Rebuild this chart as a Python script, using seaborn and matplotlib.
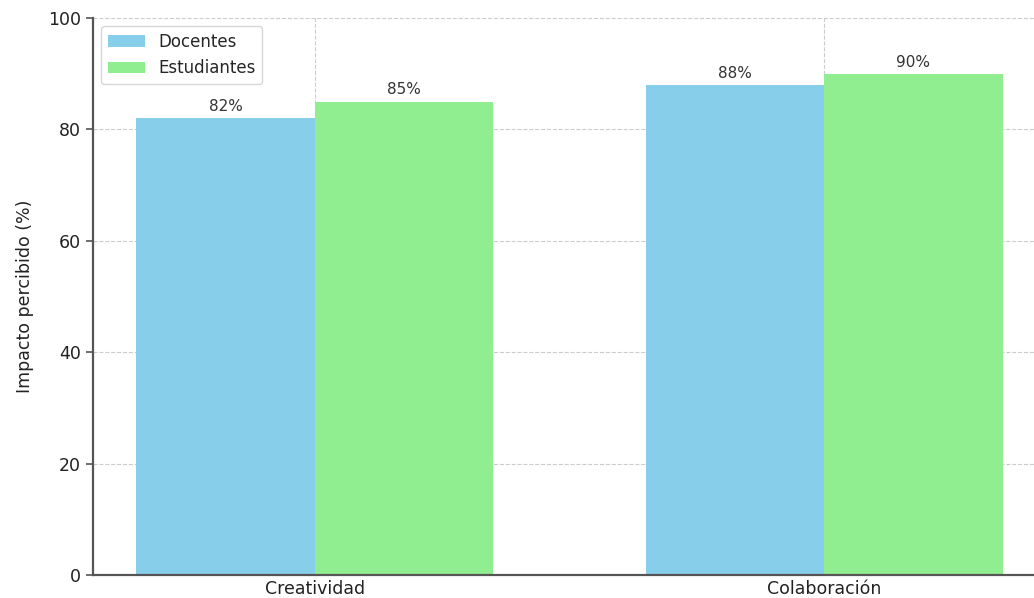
import matplotlib
matplotlib.use("Agg")
import matplotlib.pyplot as plt
import seaborn as sns
import pandas as pd

# Perceived impact by dimension and group
categories = ["Creatividad", "Colaboración"]
groups = ["Docentes", "Estudiantes"]
docentes = [82, 88]
estudiantes = [85, 90]
colors = ["#87CEEB", "#90EE90"]

df = pd.DataFrame({
    "Dimensión": categories * 2,
    "Grupo": [groups[0]] * len(categories) + [groups[1]] * len(categories),
    "Impacto": docentes + estudiantes,
})

sns.set_theme(style="whitegrid")
plt.rcParams["font.family"] = ["DejaVu Sans"]

fig = plt.figure(figsize=(10.34, 5.98), dpi=100)
ax = fig.add_axes([93 / 1034, 23 / 598, (1046 - 93) / 1034, 557 / 598])

sns.barplot(data=df, x="Dimensión", y="Impacto", hue="Grupo",
            palette=colors, width=0.7, saturation=1, ax=ax,
            edgecolor="none", linewidth=0)

for cont in ax.containers:
    ax.bar_label(cont, fmt="%d%%", padding=3, fontsize=11, color="#333333")

ax.set_xlim(-0.435, 1.435)
ax.set_ylim(0, 100)
ax.set_xlabel("")
ax.set_ylabel("Impacto percibido (%)", fontsize=12.5, color="#222222", labelpad=10)
ax.tick_params(axis="both", labelsize=12.5, colors="#222222")
ax.tick_params(axis="y", length=5, width=1.2, color="#555555", left=True)
ax.tick_params(axis="x", length=0)

ax.grid(True, linestyle="--", color="#cccccc", linewidth=0.8)
ax.set_axisbelow(True)
sns.despine(ax=ax, top=True, right=True)
for side in ("left", "bottom"):
    ax.spines[side].set_color("#555555")
    ax.spines[side].set_linewidth(1.6)

leg = ax.legend(loc="upper left", fontsize=12, frameon=True, fancybox=True,
                borderaxespad=0.5, handlelength=2.2)
leg.get_frame().set_edgecolor("#cccccc")
leg.set_title(None)

fig.savefig("out.png", dpi=100)
